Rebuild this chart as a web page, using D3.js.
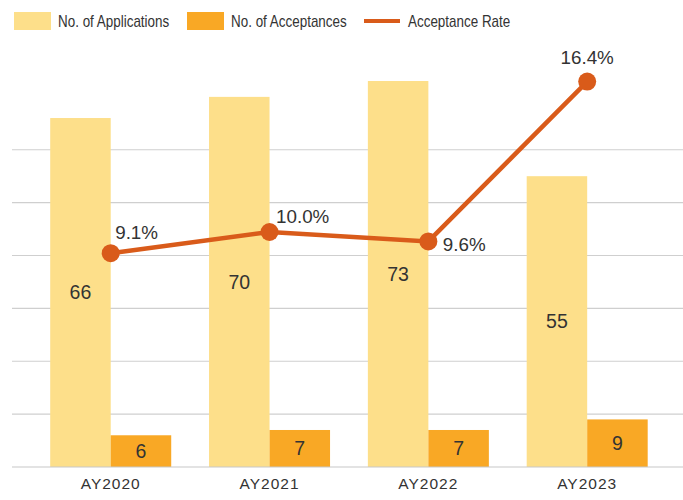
<!DOCTYPE html>
<html>
<head>
<meta charset="utf-8">
<script src="https://cdn.jsdelivr.net/npm/d3@7"></script>
<style>
  body { margin: 0; background: #fff; }
  text { font-family: "Liberation Sans", Arial, sans-serif; fill: #333; }
</style>
</head>
<body>
<div id="chart"></div>
<script>
const years = ["AY2020", "AY2021", "AY2022", "AY2023"];
const applications = [66, 70, 73, 55];
const acceptances = [6, 7, 7, 9];
const rates = [9.1, 10.0, 9.6, 16.4];
const gridTicks = [10, 20, 30, 40, 50, 60];

const w = 683, h = 500;
const svg = d3.select("#chart").append("svg").attr("width", w).attr("height", h);

const x0 = d3.scaleBand().domain(years).range([31.3, 666.6]);
const x1 = d3.scaleBand().domain(["app", "acc"]).range([0, x0.bandwidth()]).paddingOuter(0.3125);
const y = d3.scaleLinear().domain([0, 80]).range([467, 44]);
const yRate = d3.scaleLinear().domain([0, 18]).range([467, 44]);

// gridlines
svg.append("g").selectAll("line")
  .data(gridTicks)
  .enter().append("line")
  .attr("x1", 12).attr("x2", w)
  .attr("y1", d => y(d)).attr("y2", d => y(d))
  .attr("stroke", "#cfcfcf").attr("stroke-width", 1.2);

// bars
const groups = svg.append("g").selectAll("g")
  .data(years)
  .enter().append("g")
  .attr("transform", d => "translate(" + x0(d) + ",0)");

groups.append("rect")
  .attr("x", x1("app")).attr("width", x1.bandwidth())
  .attr("y", (d, i) => y(applications[i]))
  .attr("height", (d, i) => y(0) - y(applications[i]))
  .attr("fill", "#fddf8a");

groups.append("rect")
  .attr("x", x1("acc")).attr("width", x1.bandwidth())
  .attr("y", (d, i) => y(acceptances[i]))
  .attr("height", (d, i) => y(0) - y(acceptances[i]))
  .attr("fill", "#f9a825");

groups.append("text")
  .attr("x", x1("app") + x1.bandwidth() / 2)
  .attr("y", (d, i) => (y(applications[i]) + y(0)) / 2)
  .attr("dy", "0.35em")
  .attr("text-anchor", "middle")
  .attr("font-size", 19.5)
  .text((d, i) => applications[i]);

groups.append("text")
  .attr("x", x1("acc") + x1.bandwidth() / 2)
  .attr("y", (d, i) => (y(acceptances[i]) + y(0)) / 2)
  .attr("dy", "0.35em")
  .attr("text-anchor", "middle")
  .attr("font-size", 19.5)
  .text((d, i) => acceptances[i]);

// baseline + x axis
svg.append("line")
  .attr("x1", 12).attr("x2", w)
  .attr("y1", y(0)).attr("y2", y(0))
  .attr("stroke", "#c8c8c8").attr("stroke-width", 1.2);

svg.append("g").selectAll("text")
  .data(years)
  .enter().append("text")
  .attr("x", d => x0(d) + x0.bandwidth() / 2)
  .attr("y", 484)
  .attr("dy", "0.35em")
  .attr("text-anchor", "middle")
  .attr("font-size", 15.5)
  .attr("letter-spacing", 1)
  .attr("fill", "#444")
  .text(d => d);

// rate line
const cx = (d, i) => x0(years[i]) + x0.bandwidth() / 2;
const line = d3.line().x(cx).y(d => yRate(d));
svg.append("path")
  .datum(rates)
  .attr("d", line)
  .attr("fill", "none")
  .attr("stroke", "#d95b1a")
  .attr("stroke-width", 4.5);

svg.append("g").selectAll("circle")
  .data(rates)
  .enter().append("circle")
  .attr("cx", cx)
  .attr("cy", d => yRate(d))
  .attr("r", 9)
  .attr("fill", "#d95b1a");

// label placement relative to point
const labelOffsets = [[4.5, -20.5, "start"], [6.5, -15.5, "start"], [14.5, 3, "start"], [0, -24, "middle"]];
svg.append("g").selectAll("text")
  .data(rates)
  .enter().append("text")
  .attr("x", (d, i) => cx(d, i) + labelOffsets[i][0])
  .attr("y", (d, i) => yRate(d) + labelOffsets[i][1])
  .attr("dy", "0.35em")
  .attr("text-anchor", (d, i) => labelOffsets[i][2])
  .attr("font-size", 18.8)
  .text(d => d.toFixed(1) + "%");

// legend (glyphs in the original are narrow, so squeeze horizontally)
const legend = svg.append("g");
const legendText = (x, label) => legend.append("text")
  .attr("transform", "translate(" + x + ",21) scale(0.84,1)")
  .attr("dy", "0.35em").attr("font-size", 16).attr("fill", "#444").text(label);
legend.append("rect").attr("x", 14).attr("y", 12).attr("width", 37).attr("height", 18).attr("fill", "#fddf8a");
legendText(58, "No. of Applications");
legend.append("rect").attr("x", 187).attr("y", 12).attr("width", 37).attr("height", 18).attr("fill", "#f9a825");
legendText(231, "No. of Acceptances");
legend.append("line").attr("x1", 364).attr("x2", 400).attr("y1", 21).attr("y2", 21).attr("stroke", "#d95b1a").attr("stroke-width", 4);
legendText(408, "Acceptance Rate");
</script>
</body>
</html>
